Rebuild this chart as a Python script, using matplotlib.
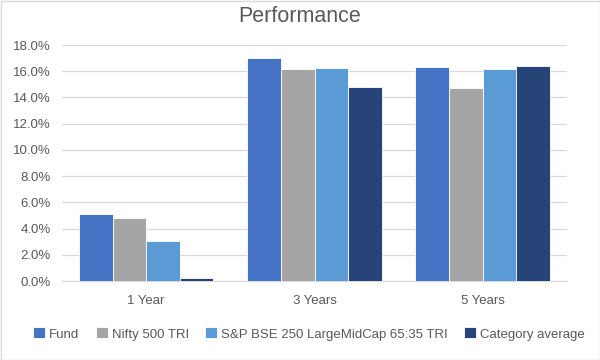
import matplotlib
matplotlib.use('Agg')
import matplotlib.pyplot as plt
import numpy as np
from matplotlib.patches import Rectangle

plt.rcParams['font.family'] = ['Liberation Sans', 'DejaVu Sans']

# data (percent)
periods = ['1 Year', '3 Years', '5 Years']
series_names = ['Fund', 'Nifty 500 TRI', 'S&P BSE 250 LargeMidCap 65:35 TRI', 'Category average']
fund = [5.1, 17.0, 16.35]
nifty500 = [4.8, 16.15, 14.72]
bse250 = [3.05, 16.25, 16.15]
category_avg = [0.2, 14.82, 16.4]
colors = ['#4472C4', '#A5A5A5', '#5B9BD5', '#264478']
yticks = [0, 2, 4, 6, 8, 10, 12, 14, 16, 18]

text_col = '#595959'

fig = plt.figure(figsize=(6, 3.6), dpi=100)
ax = fig.add_axes([62 / 600, 1 - 281 / 360, 505 / 600, 236 / 360])

x = np.arange(len(periods))
width = 0.2
for i, vals in enumerate([fund, nifty500, bse250, category_avg]):
    ax.bar(x + (i - 1.5) * width, vals, width, color=colors[i], label=series_names[i],
           edgecolor='white', linewidth=0.6, zorder=3)

ax.set_xlim(-0.5, 2.5)
ax.set_ylim(0, 18)
ax.set_yticks(yticks)
ax.set_yticklabels(['%.1f%%' % v for v in yticks], color=text_col, fontsize=9.5)
ax.set_xticks(x)
ax.set_xticklabels(periods, color=text_col, fontsize=9.5)
ax.tick_params(axis='y', length=0, pad=8)
ax.tick_params(axis='x', length=0, pad=10)
ax.grid(axis='y', color='#D9D9D9', linewidth=0.9, zorder=0)
for s in ['top', 'right', 'left']:
    ax.spines[s].set_visible(False)
ax.spines['bottom'].set_color('#D9D9D9')

fig.text(0.5, 1 - 17 / 360, 'Performance', ha='center', va='center', fontsize=15.5, color=text_col)

leg = fig.legend(loc='center', bbox_to_anchor=(309 / 600, 1 - 334 / 360), ncol=4, frameon=False,
                 fontsize=9.5, handlelength=0.9, handleheight=0.9, handletextpad=0.3,
                 columnspacing=1.25)
for t in leg.get_texts():
    t.set_color(text_col)

fig.patches.append(Rectangle((0.5 / 600, 0.5 / 360), 599 / 600, 359 / 360, transform=fig.transFigure,
                             fill=False, edgecolor='#D9D9D9', linewidth=1))

fig.savefig('out.png', dpi=100)
